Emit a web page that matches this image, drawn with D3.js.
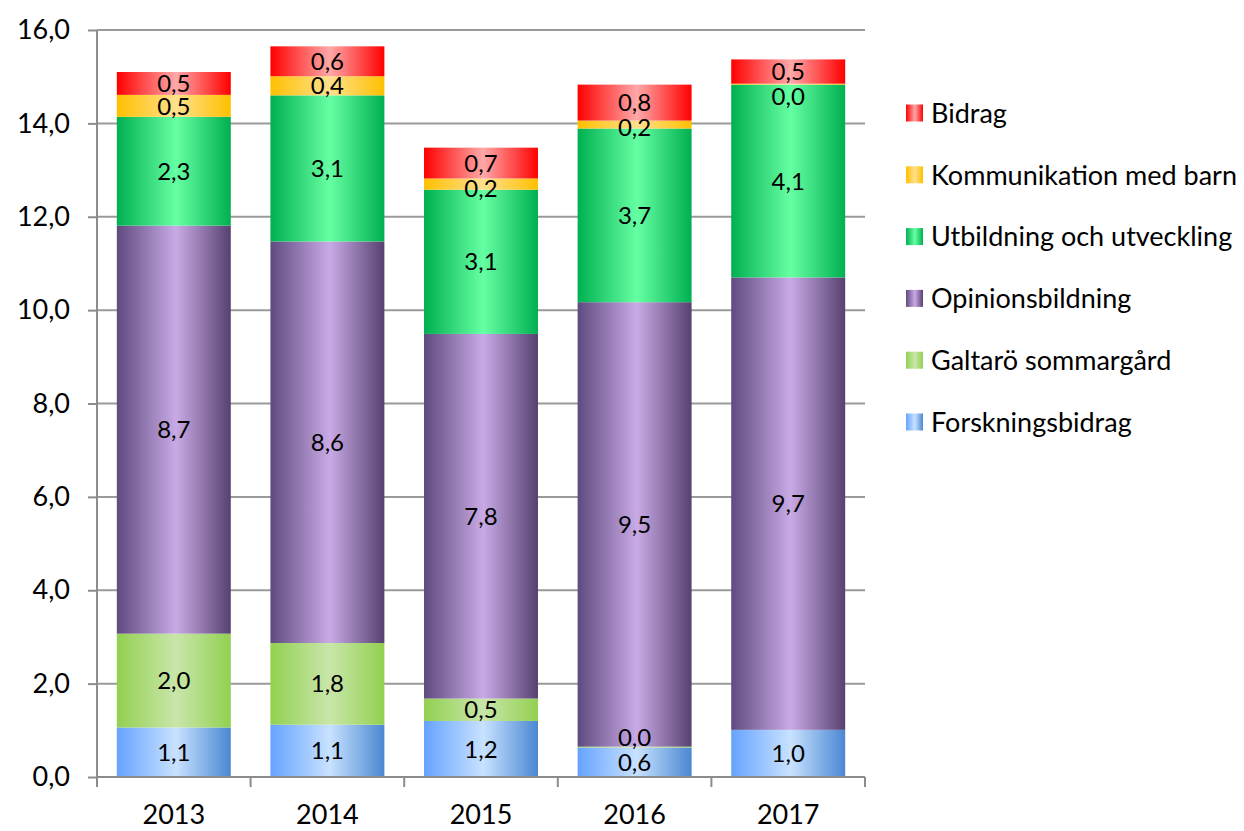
<!DOCTYPE html>
<html>
<head>
<meta charset="utf-8">
<script src="https://cdn.jsdelivr.net/npm/d3@7"></script>
<style>
  body { margin: 0; background: #fff; }
  text { font-family: Lato, "Open Sans", sans-serif; fill: #000; }
</style>
</head>
<body>
<svg id="chart" width="1244" height="831"></svg>
<script>
const years = ["2013", "2014", "2015", "2016", "2017"];
// series bottom -> top
const seriesNames = ["Forskningsbidrag", "Galtarö sommargård", "Opinionsbildning",
                     "Utbildning och utveckling", "Kommunikation med barn", "Bidrag"];
const forskning   = [1.06, 1.12, 1.20, 0.63, 1.01];
const galtaro     = [2.01, 1.75, 0.48, 0.02, null];   // no value 2017
const opinion     = [8.74, 8.60, 7.81, 9.52, 9.69];
const utbildning  = [2.33, 3.13, 3.09, 3.72, 4.13];
const kommunikation = [0.47, 0.41, 0.24, 0.17, 0.02];
const bidrag      = [0.49, 0.64, 0.66, 0.77, 0.52];
const yTicks = [0, 2, 4, 6, 8, 10, 12, 14, 16];

// gradient stops: edge left, centre, edge right
const palette = [
  ["#66a3ff", "#c8e2ff", "#4a87d2"],
  ["#92d050", "#c9e6aa", "#92d050"],
  ["#5f4a7f", "#c9aae6", "#574170"],
  ["#00b050", "#66ffa3", "#00b050"],
  ["#ffc000", "#ffe08c", "#ffc000"],
  ["#ff0000", "#ffa8a8", "#ff0000"]
];

const values = [forskning, galtaro, opinion, utbildning, kommunikation, bidrag];
const table = years.map((y, i) => {
  const row = { year: y };
  seriesNames.forEach((s, k) => row[s] = values[k][i]);
  return row;
});

const svg = d3.select("#chart");
const mLeft = 97, mRight = 865, mTop = 30, mBottom = 777;

const x = d3.scaleBand().domain(years).range([mLeft, mRight])
  .paddingInner(0.258).paddingOuter(0.129);
const y = d3.scaleLinear().domain([0, 16]).range([mBottom, mTop]);
const fmt = v => d3.format(".1f")(v).replace(".", ",");

// gradients
const defs = svg.append("defs");
palette.forEach((c, k) => {
  const g = defs.append("linearGradient").attr("id", "g" + k)
    .attr("x1", "0%").attr("x2", "100%").attr("y1", "0%").attr("y2", "0%");
  g.append("stop").attr("offset", "0%").attr("stop-color", c[0]);
  g.append("stop").attr("offset", "52%").attr("stop-color", c[1]);
  g.append("stop").attr("offset", "100%").attr("stop-color", c[2]);
});

// grid
svg.append("g").selectAll("line").data(yTicks.slice(1)).join("line")
  .attr("x1", mLeft).attr("x2", mRight)
  .attr("y1", d => y(d)).attr("y2", d => y(d))
  .attr("stroke", "#9a9a9a").attr("stroke-width", 2);

// bars
const stacked = d3.stack().keys(seriesNames)
  .value((d, key) => d[key] == null ? 0 : d[key])(table);
const layers = svg.append("g").selectAll("g").data(stacked).join("g")
  .attr("fill", (d, k) => `url(#g${k})`);
layers.selectAll("rect").data(d => d).join("rect")
  .attr("x", d => x(d.data.year))
  .attr("width", x.bandwidth())
  .attr("y", d => y(d[1]))
  .attr("height", d => y(d[0]) - y(d[1]));

// data labels: centred, tiny ones pushed off their neighbour like Excel does
const lab = svg.append("g");
years.forEach((yr, i) => {
  const items = stacked.map(s => ({
    v: s[i][1] - s[i][0], raw: s[i].data[s.key],
    py: y((s[i][0] + s[i][1]) / 2)
  }));
  items.forEach((it, k) => {
    [k - 1, k + 1].forEach(j => {
      const nb = items[j];
      if (!nb || nb.raw == null || it.raw == null) return;
      if (Math.abs(it.py - nb.py) < 22 && it.v < nb.v) {
        it.py = j < k ? nb.py - 25 : nb.py + 25;
      }
    });
  });
  items.forEach(it => {
    if (it.raw == null) return;
    lab.append("text")
      .attr("x", x(yr) + x.bandwidth() / 2)
      .attr("y", it.py)
      .attr("dy", "0.36em")
      .attr("text-anchor", "middle")
      .style("font-size", "24px")
      .text(fmt(it.v));
  });
});

// y axis
const yAxis = svg.append("g").attr("transform", `translate(${mLeft},0)`)
  .call(d3.axisLeft(y).tickValues(yTicks).tickFormat(fmt).tickSize(9).tickPadding(18));
yAxis.select(".domain").attr("stroke", "#8c8c8c").attr("stroke-width", 2)
  .attr("d", `M0,${mBottom}V${mTop}`);
yAxis.selectAll(".tick line").attr("stroke", "#8c8c8c").attr("stroke-width", 2);
yAxis.selectAll(".tick text").style("font-size", "27px").style("font-family", "Lato");

// x axis
svg.append("line").attr("x1", mLeft).attr("x2", mRight)
  .attr("y1", mBottom).attr("y2", mBottom)
  .attr("stroke", "#8c8c8c").attr("stroke-width", 2);
const gap = x.step() - x.bandwidth();
const bounds = years.map(d => x(d) - gap / 2).concat([mRight]);
svg.append("g").selectAll("line").data(bounds).join("line")
  .attr("x1", d => d).attr("x2", d => d)
  .attr("y1", mBottom).attr("y2", mBottom + 10)
  .attr("stroke", "#8c8c8c").attr("stroke-width", 2);
svg.append("g").selectAll("text").data(years).join("text")
  .attr("x", d => x(d) + x.bandwidth() / 2)
  .attr("y", 814)
  .attr("dy", "0.36em")
  .attr("text-anchor", "middle")
  .style("font-size", "27px")
  .text(d => d);

// legend, top series first
const legend = svg.append("g").attr("transform", "translate(906,113)");
const order = seriesNames.map((s, k) => k).reverse();
const item = legend.selectAll("g").data(order).join("g")
  .attr("transform", (k, i) => `translate(0,${i * 61.8})`);
item.append("rect").attr("x", 0).attr("y", -8.5).attr("width", 17).attr("height", 17)
  .attr("fill", k => `url(#g${k})`);
item.append("text").attr("x", 25).attr("dy", "0.36em")
  .style("font-size", "27px")
  .text(k => seriesNames[k]);
</script>
</body>
</html>
